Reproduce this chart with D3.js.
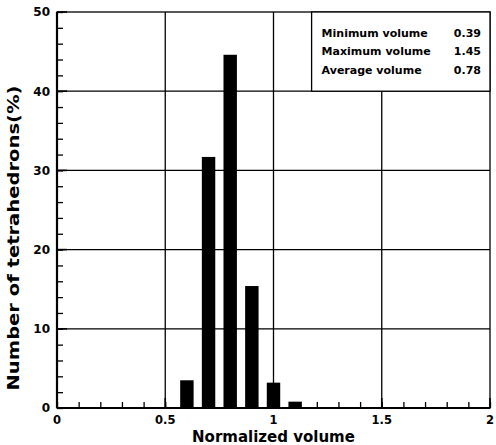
<!DOCTYPE html>
<html>
<head>
<meta charset="utf-8">
<script src="https://cdn.jsdelivr.net/npm/d3@7"></script>
<style>
  body { margin: 0; background: #fff; }
  text { font-family: "DejaVu Sans", "Liberation Sans", Arial, sans-serif; font-weight: bold; }
</style>
</head>
<body>
<svg id="chart"></svg>
<script>
let width = 496
let height = 445
let margin = {top: 12, right: 6, bottom: 37, left: 57}

// histogram bins (bin centre) and percentages
let binCenters = [0.6, 0.7, 0.8, 0.9, 1.0, 1.1]
let percents = [3.5, 31.7, 44.6, 15.4, 3.2, 0.8]
let binWidth = 0.062

let xTicks = [0, 0.5, 1, 1.5, 2]
let yTicks = [0, 10, 20, 30, 40, 50]
let statNames = ["Minimum volume", "Maximum volume", "Average volume"]
let statValues = ["0.39", "1.45", "0.78"]

let plotW = width - margin.left - margin.right
let plotH = height - margin.top - margin.bottom

let xScale = d3.scaleLinear().domain([0, 2]).range([0, plotW])
let yScale = d3.scaleLinear().domain([0, 50]).range([plotH, 0])

let svg = d3.select("#chart")
    .attr("width", width)
    .attr("height", height)

let g = svg.append("g")
    .attr("transform", "translate(" + margin.left + "," + margin.top + ")")

// grid
g.append("g").selectAll("line")
    .data(xTicks.slice(1, -1))
    .enter().append("line")
    .attr("x1", d => xScale(d)).attr("x2", d => xScale(d))
    .attr("y1", 0).attr("y2", plotH)
    .attr("stroke", "#000").attr("stroke-width", 1.3)

g.append("g").selectAll("line")
    .data(yTicks.slice(1, -1))
    .enter().append("line")
    .attr("x1", 0).attr("x2", plotW)
    .attr("y1", d => yScale(d)).attr("y2", d => yScale(d))
    .attr("stroke", "#000").attr("stroke-width", 1.3)

// bars
g.append("g").selectAll("rect")
    .data(binCenters)
    .enter().append("rect")
    .attr("x", d => xScale(d - binWidth / 2))
    .attr("width", xScale(binWidth) - xScale(0))
    .attr("y", (d, i) => yScale(percents[i]))
    .attr("height", (d, i) => yScale(0) - yScale(percents[i]))
    .attr("fill", "#000")

// axes with inward ticks
let xAxis = g.append("g")
    .attr("transform", "translate(0," + plotH + ")")
    .call(d3.axisBottom(xScale).tickValues(d3.range(0, 2.01, 0.1)).tickSize(-6).tickFormat(""))
xAxis.select(".domain").remove()
xAxis.selectAll("line").attr("stroke-width", 1.3)

let yAxis = g.append("g")
    .call(d3.axisLeft(yScale).tickValues(d3.range(0, 51, 2)).tickSize(-6).tickFormat(""))
yAxis.select(".domain").remove()
yAxis.selectAll("line").attr("stroke-width", 1.3)

// major ticks slightly longer
g.append("g").selectAll("line")
    .data(yTicks)
    .enter().append("line")
    .attr("x1", 0).attr("x2", 10)
    .attr("y1", d => yScale(d)).attr("y2", d => yScale(d))
    .attr("stroke", "#000").attr("stroke-width", 1.6)

g.append("g").selectAll("line")
    .data(xTicks)
    .enter().append("line")
    .attr("x1", d => xScale(d)).attr("x2", d => xScale(d))
    .attr("y1", plotH).attr("y2", plotH - 10)
    .attr("stroke", "#000").attr("stroke-width", 1.6)

// frame
g.append("rect")
    .attr("width", plotW).attr("height", plotH)
    .attr("fill", "none").attr("stroke", "#000").attr("stroke-width", 1.3)
g.append("line")
    .attr("x1", 0).attr("x2", 0).attr("y1", 0).attr("y2", plotH)
    .attr("stroke", "#000").attr("stroke-width", 2.2)
g.append("line")
    .attr("x1", 0).attr("x2", plotW).attr("y1", plotH).attr("y2", plotH)
    .attr("stroke", "#000").attr("stroke-width", 2.2)

// tick labels
g.append("g").selectAll("text")
    .data(yTicks)
    .enter().append("text")
    .attr("x", -7)
    .attr("y", d => yScale(d))
    .attr("dy", "0.36em")
    .attr("text-anchor", "end")
    .attr("font-size", 12)
    .text(d => d)

g.append("g").selectAll("text")
    .data(xTicks)
    .enter().append("text")
    .attr("x", d => xScale(d))
    .attr("y", plotH + 16)
    .attr("text-anchor", "middle")
    .attr("font-size", 11.5)
    .text(d => d)

// axis titles
svg.append("text")
    .text("Normalized volume")
    .attr("x", margin.left + xScale(1))
    .attr("y", 442)
    .attr("text-anchor", "middle")
    .attr("font-size", 15)

svg.append("text")
    .text("Number of tetrahedrons(%)")
    .attr("text-anchor", "middle")
    .attr("font-size", 15)
    .attr("textLength", 305)
    .attr("lengthAdjust", "spacingAndGlyphs")
    .attr("transform", "translate(19,238), rotate(270)")

// stats box
let boxX = xScale(1.176)
let box = g.append("g")
box.append("rect")
    .attr("x", boxX).attr("y", 0)
    .attr("width", plotW - boxX).attr("height", yScale(40))
    .attr("fill", "#fff").attr("stroke", "#000").attr("stroke-width", 1.3)

box.selectAll(".statName")
    .data(statNames)
    .enter().append("text")
    .attr("class", "statName")
    .attr("x", boxX + 10)
    .attr("y", (d, i) => 24.5 + i * 18.5)
    .attr("font-size", 11)
    .text(d => d)

box.selectAll(".statVal")
    .data(statValues)
    .enter().append("text")
    .attr("class", "statVal")
    .attr("x", plotW - 9)
    .attr("y", (d, i) => 24.5 + i * 18.5)
    .attr("text-anchor", "end")
    .attr("font-size", 11)
    .text(d => d)
</script>
</body>
</html>
